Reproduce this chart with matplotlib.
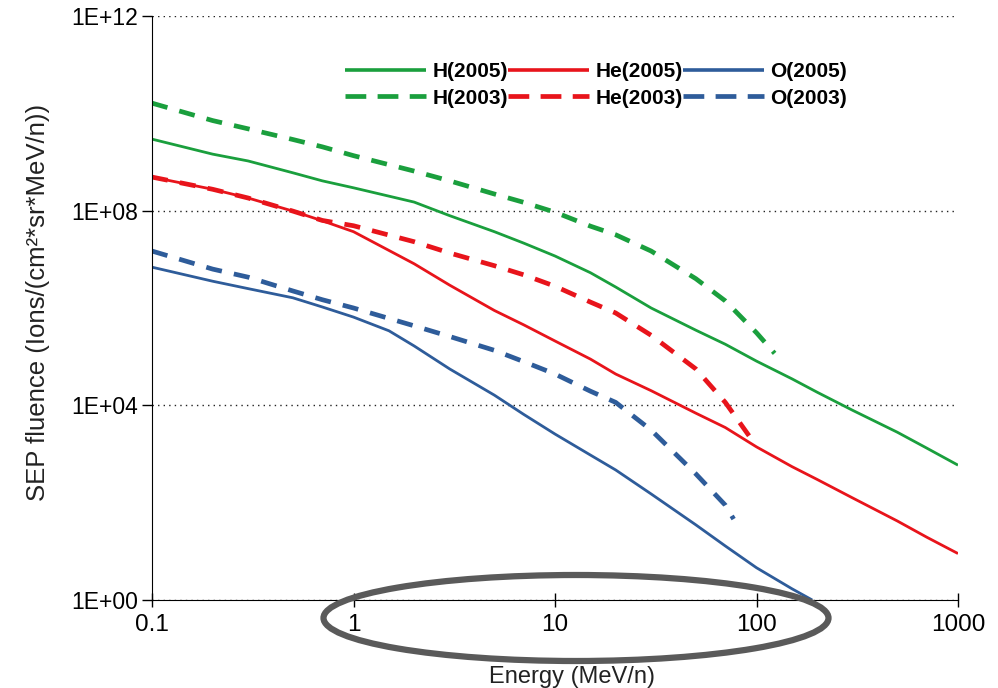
import numpy as np
import matplotlib
matplotlib.use('Agg')
import matplotlib.pyplot as plt
from matplotlib.patches import Ellipse
from matplotlib.ticker import FixedLocator, FixedFormatter, FuncFormatter, NullLocator

plt.rcParams['font.family'] = ['Liberation Sans', 'DejaVu Sans']

# Data (energy in MeV/n, fluence in ions/(cm2 sr MeV/n))
e_h05 = [0.1, 0.2, 0.3, 0.5, 0.7, 1, 2, 3, 5, 7, 10, 15, 20, 30, 50, 70, 100, 150, 200, 300, 500, 700, 1000]
h05 = [2.95e9, 1.45e9, 1.05e9, 6.0e8, 4.1e8, 2.95e8, 1.5e8, 7.9e7, 3.7e7, 2.15e7, 1.17e7, 5.3e6,
       2.7e6, 1.0e6, 3.5e5, 1.8e5, 8.1e4, 3.5e4, 1.86e4, 7.9e3, 2.8e3, 1.32e3, 5.9e2]

e_h03 = [0.1, 0.2, 0.3, 0.5, 0.7, 1, 2, 3, 5, 7, 10, 15, 20, 30, 50, 70, 100, 123]
h03 = [1.62e10, 7.1e9, 4.8e9, 2.9e9, 2.05e9, 1.35e9, 6.5e8, 4.1e8, 2.2e8, 1.48e8, 9.3e7, 4.8e7,
       3.2e7, 1.48e7, 4.0e6, 1.4e6, 3.1e5, 1.17e5]

e_he05 = [0.1, 0.2, 0.3, 0.5, 0.7, 1, 2, 3, 5, 7, 10, 15, 20, 30, 50, 70, 100, 150, 200, 300, 500, 700, 1000]
he05 = [4.9e8, 2.75e8, 1.82e8, 9.8e7, 6.2e7, 3.7e7, 8.1e6, 2.95e6, 8.9e5, 4.5e5, 2.1e5, 8.9e4,
        4.4e4, 2.0e4, 6.9e3, 3.5e3, 1.4e3, 5.5e2, 3.0e2, 1.25e2, 42, 19.5, 9.0]

e_he03 = [0.1, 0.2, 0.3, 0.5, 0.7, 1, 2, 3, 5, 7, 10, 15, 20, 30, 50, 70, 93]
he03 = [4.9e8, 2.75e8, 1.82e8, 9.8e7, 6.3e7, 4.9e7, 2.3e7, 1.35e7, 7.4e6, 4.8e6, 2.8e6, 1.32e6,
        7.9e5, 2.75e5, 5.6e4, 1.15e4, 2.2e3]

e_o05 = [0.1, 0.2, 0.3, 0.5, 0.7, 1, 1.5, 2, 3, 5, 7, 10, 15, 20, 30, 50, 70, 100, 150, 189]
o05 = [6.9e6, 3.55e6, 2.5e6, 1.62e6, 1.05e6, 6.5e5, 3.4e5, 1.66e5, 5.6e4, 1.62e4, 6.5e3, 2.57e3,
       9.5e2, 4.7e2, 1.51e2, 35, 12.9, 4.6, 1.7, 1.0]

e_o03 = [0.1, 0.2, 0.3, 0.5, 0.7, 1, 2, 3, 5, 7, 10, 15, 20, 30, 50, 70, 77]
o03 = [1.48e7, 6.3e6, 4.3e6, 2.24e6, 1.48e6, 1.0e6, 4.3e5, 2.6e5, 1.35e5, 7.9e4, 4.4e4, 1.95e4,
       1.15e4, 3.1e3, 3.9e2, 89, 46]

y_ticks = [1e0, 1e4, 1e8, 1e12]
x_ticks = [0.1, 1, 10, 100, 1000]
x_tick_labels = ['0.1', '1', '10', '100', '1000']

green = '#1a9f3d'
red = '#e8141b'
blue = '#2e5c9a'

fig = plt.figure(figsize=(9.98, 6.88), dpi=100)
ax = fig.add_axes([152 / 998, 1 - 600 / 688, (958 - 152) / 998, (600 - 16) / 688])

solid_kw = dict(lw=2.0, solid_capstyle='butt')
dash_kw = dict(lw=3.4, dashes=(3.4, 2.6), dash_capstyle='butt')

ax.plot(e_h05, h05, color=green, label='H(2005)', **solid_kw)
ax.plot(e_h03, h03, color=green, label='H(2003)', **dash_kw)
ax.plot(e_he05, he05, color=red, label='He(2005)', **solid_kw)
ax.plot(e_he03, he03, color=red, label='He(2003)', **dash_kw)
ax.plot(e_o05, o05, color=blue, label='O(2005)', **solid_kw)
ax.plot(e_o03, o03, color=blue, label='O(2003)', **dash_kw)

ax.set_xscale('log')
ax.set_yscale('log')
ax.set_xlim(0.1, 1000)
ax.set_ylim(1e0, 1e12)

ax.xaxis.set_major_locator(FixedLocator(x_ticks))
ax.xaxis.set_major_formatter(FixedFormatter(x_tick_labels))
ax.xaxis.set_minor_locator(NullLocator())
ax.yaxis.set_major_locator(FixedLocator(y_ticks))
ax.yaxis.set_major_formatter(FuncFormatter(lambda v, p: '1E+%02d' % round(np.log10(v))))
ax.yaxis.set_minor_locator(NullLocator())

ax.tick_params(axis='x', direction='inout', length=10, width=1, labelsize=17.5, pad=5)
ax.tick_params(axis='y', direction='out', length=7, width=1, labelsize=16.5, pad=3)

ax.grid(axis='y', which='major', color='#222222', linestyle=(0, (1, 3)), linewidth=1)
ax.spines['top'].set_visible(False)
ax.spines['right'].set_visible(False)
ax.set_axisbelow(True)

ax.set_ylabel('SEP fluence (Ions/(cm²*sr*MeV/n))', fontsize=18.5, labelpad=15, color='#222222', y=0.51)
ax.set_xlabel('Energy (MeV/n)', fontsize=17, labelpad=22, color='#222222', x=0.521)

handles, labels = ax.get_legend_handles_labels()
leg = fig.legend(handles, labels, ncol=3, loc='center', bbox_to_anchor=(596 / 998, 1 - 85 / 688),
                 frameon=False, handlelength=3.9, handletextpad=0.3, columnspacing=0.0,
                 labelspacing=0.35, borderpad=0, prop={'weight': 'bold', 'size': 15})
for line in leg.get_lines():
    if line.get_linestyle() == '-':
        line.set_linewidth(2.6)
    else:
        line.set_linewidth(3.4)
        line.set_dashes((4.4, 2.4))

ell = Ellipse((576 / 998, 1 - 618 / 688), 505 / 998, 86 / 688, transform=fig.transFigure,
              fill=False, edgecolor='#5a5a5a', linewidth=4.5, clip_on=False)
fig.add_artist(ell)

fig.savefig('out.png', dpi=100)
